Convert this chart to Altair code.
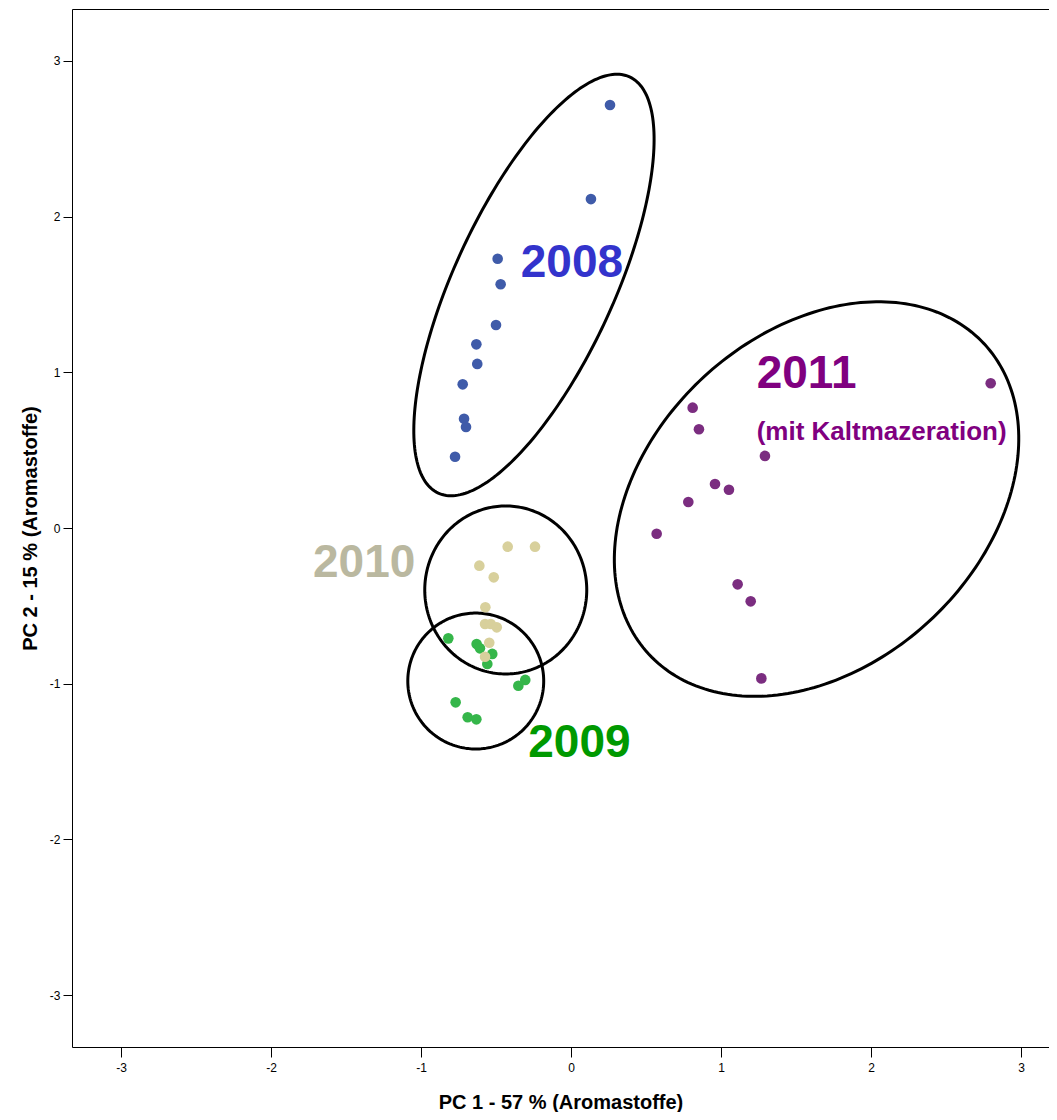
import numpy as np
import pandas as pd
import altair as alt

# ---- data ----
x2008 = [0.26, 0.133, -0.489, -0.469, -0.50, -0.631, -0.625, -0.722, -0.713, -0.70, -0.773]
y2008 = [2.717, 2.113, 1.730, 1.566, 1.304, 1.180, 1.054, 0.923, 0.702, 0.649, 0.458]

x2009 = [-0.818, -0.629, -0.607, -0.525, -0.558, -0.305, -0.351, -0.769, -0.689, -0.631]
y2009 = [-0.709, -0.745, -0.773, -0.809, -0.874, -0.976, -1.013, -1.120, -1.216, -1.229]

x2010 = [-0.422, -0.24, -0.611, -0.515, -0.571, -0.573, -0.535, -0.495, -0.545, -0.573]
y2010 = [-0.120, -0.120, -0.242, -0.317, -0.509, -0.617, -0.617, -0.638, -0.737, -0.827]

x2011 = [2.798, 0.811, 0.853, 1.293, 0.96, 1.053, 0.782, 0.571, 1.111, 1.198, 1.269]
y2011 = [0.930, 0.773, 0.634, 0.463, 0.283, 0.246, 0.167, -0.037, -0.362, -0.471, -0.966]

groups = ["2008", "2009", "2010", "2011"]
point_colors = ["#3f5ba9", "#35b64a", "#d8d09c", "#7b2d80"]

# group ellipses: center (data), semi-axes (x units), rotation (deg)
ell_group = ["2008", "2011", "2010", "2009"]
ell_cx = [-0.247, 1.637, -0.435, -0.635]
ell_cy = [1.561, 0.186, -0.398, -0.983]
ell_a = [1.527, 1.523, 0.56, 0.453]
ell_b = [0.533, 1.108, 0.54, 0.453]
ell_ang = [65.3, 42.7, 90.0, 0.0]

# group labels
lab_text = ["2008", "2011", "(mit Kaltmazeration)", "2010", "2009"]
lab_x = [-0.335, 1.238, 1.238, -1.72, -0.285]
lab_y = [1.614, 0.901, 0.565, -0.315, -1.469]
lab_size = [46, 46, 26, 46, 46]
lab_color = ["#3333cc", "#800080", "#800080", "#bab8a0", "#009900"]

x_ticks = [-3, -2, -1, 0, 1, 2, 3]
y_ticks = [-3, -2, -1, 0, 1, 2, 3]

XDOM = [-3.3267, 3.1867]
YDOM = [-3.334, 3.334]
W, H = 977, 1038
ASPECT = ((XDOM[1] - XDOM[0]) / W) / ((YDOM[1] - YDOM[0]) / H)

# ---- build tables ----
pts = pd.concat([
    pd.DataFrame({"x": x2008, "y": y2008, "g": "2008"}),
    pd.DataFrame({"x": x2009, "y": y2009, "g": "2009"}),
    pd.DataFrame({"x": x2010, "y": y2010, "g": "2010"}),
    pd.DataFrame({"x": x2011, "y": y2011, "g": "2011"}),
], ignore_index=True)
pts["ord"] = pts["g"].map({"2008": 0, "2009": 1, "2010": 2, "2011": 3})

t = np.linspace(0, 2 * np.pi, 241)
rows = []
for g, cx, cy, a, b, ang in zip(ell_group, ell_cx, ell_cy, ell_a, ell_b, ell_ang):
    th = np.deg2rad(ang)
    ex = cx + a * np.cos(th) * np.cos(t) - b * np.sin(th) * np.sin(t)
    ey = cy + (a * np.sin(th) * np.cos(t) + b * np.cos(th) * np.sin(t)) / ASPECT
    for i, (xx, yy) in enumerate(zip(ex, ey)):
        rows.append({"g": g, "i": i, "x": xx, "y": yy})
ell = pd.DataFrame(rows)

labs = pd.DataFrame({"text": lab_text, "x": lab_x, "y": lab_y,
                     "size": lab_size, "color": lab_color})

xs = alt.Scale(domain=XDOM, nice=False, zero=False)
ys = alt.Scale(domain=YDOM, nice=False, zero=False)

xaxis = alt.Axis(values=x_ticks, labelExpr="toString(datum.value)", tickSize=10,
                 labelPadding=5, titlePadding=19, title="PC 1 - 57 % (Aromastoffe)")
xaxis_top = alt.Axis(orient="top", labels=False, ticks=False, title=None, domain=True)
yaxis = alt.Axis(values=y_ticks, labelExpr="toString(datum.value)", tickSize=9,
                 labelPadding=3, titlePadding=9, title="PC 2 - 15 % (Aromastoffe)")

ellipses = alt.Chart(ell).mark_line(color="black", strokeWidth=3, clip=True).encode(
    x=alt.X("x:Q", scale=xs, axis=xaxis),
    y=alt.Y("y:Q", scale=ys, axis=yaxis),
    detail="g:N",
    order="i:Q",
)

points = alt.Chart(pts).mark_circle(size=113, opacity=1).encode(
    x=alt.X("x:Q", scale=xs, axis=None),
    y=alt.Y("y:Q", scale=ys, axis=yaxis),
    color=alt.Color("g:N", scale=alt.Scale(domain=groups, range=point_colors), legend=None),
    order="ord:Q",
)

texts = []
for k, s in enumerate(sorted(set(lab_size))):
    sub = labs[labs["size"] == s]
    texts.append(
        alt.Chart(sub).mark_text(align="left", baseline="alphabetic", font="Liberation Sans",
                                 fontWeight="bold", fontSize=s).encode(
            x=alt.X("x:Q", scale=xs, axis=xaxis_top if k == 0 else None),
            y=alt.Y("y:Q", scale=ys, axis=yaxis),
            text="text:N",
            color=alt.Color("color:N", scale=None),
        )
    )

chart = alt.layer(ellipses, points, *texts).resolve_axis(x="independent").properties(
    width=W, height=H,
    autosize=alt.AutoSizeParams(type="none"),
    padding={"left": 64, "top": 1, "right": 0, "bottom": 65},
).configure_view(stroke=None).configure_axis(
    grid=False, domain=True, domainColor="black", domainWidth=1,
    tickColor="black", tickWidth=1,
    labelColor="black", labelFont="Liberation Sans", labelFontSize=12,
    titleColor="black", titleFont="Liberation Sans", titleFontWeight="bold", titleFontSize=20,
)

chart.save("out.html", embed_options={"renderer": "svg", "actions": False})
